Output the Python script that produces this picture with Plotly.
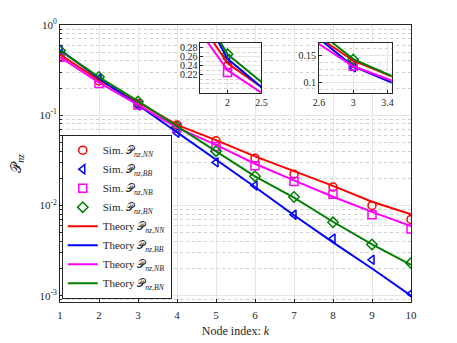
import plotly.graph_objects as go

# Indices de nodo
k = [1, 2, 3, 4, 5, 6, 7, 8, 9, 10]

# Simulacion
sim_nn = [0.45, 0.24, 0.135, 0.078, 0.052, 0.0334, 0.0222, 0.016, 0.0100, 0.0070]
sim_bb = [0.53, 0.255, 0.128, 0.064, 0.030, 0.0166, 0.0079, 0.0043, 0.0025, 0.00105]
sim_nb = [0.44, 0.225, 0.13, 0.072, 0.045, 0.0275, 0.0184, 0.0133, 0.0079, 0.0055]
sim_bn = [0.52, 0.265, 0.142, 0.074, 0.040, 0.0211, 0.0124, 0.0065, 0.0037, 0.0023]

# Teoria
th_nn = [0.47, 0.245, 0.14, 0.078, 0.053, 0.035, 0.024, 0.0165, 0.011, 0.008]
th_bb = [0.53, 0.255, 0.13, 0.065, 0.032, 0.016, 0.0078, 0.0039, 0.002, 0.001]
th_nb = [0.44, 0.23, 0.13, 0.073, 0.047, 0.029, 0.019, 0.0125, 0.0085, 0.0059]
th_bn = [0.52, 0.265, 0.143, 0.075, 0.040, 0.021, 0.0122, 0.0066, 0.0037, 0.0022]

# Ticks del eje y
y_ticks = [0.001, 0.01, 0.1, 1]
y_ticktext = ["10<sup>-3</sup>", "10<sup>-2</sup>", "10<sup>-1</sup>", "10<sup>0</sup>"]

P = "𝒫"
series = [
    ("NN", sim_nn, th_nn, "#ff0000", "circle-open"),
    ("BB", sim_bb, th_bb, "#0000ff", "triangle-left-open"),
    ("NB", sim_nb, th_nb, "#ff00ff", "square-open"),
    ("BN", sim_bn, th_bn, "#008000", "diamond-open"),
]

fig = go.Figure()

axes = [("x", "y", True), ("x2", "y2", False), ("x3", "y3", False)]

for xa, ya, main in axes:
    for name, s, t, col, sym in series:
        fig.add_trace(go.Scatter(
            x=k, y=s, mode="markers", xaxis=xa, yaxis=ya,
            name=f"Sim. {P}<sub><i>nz</i>,<i>{name}</i></sub>",
            marker=dict(symbol=sym, color=col, size=8, line=dict(width=1.5, color=col)),
            showlegend=main,
        ))
for xa, ya, main in axes:
    for name, s, t, col, sym in series:
        fig.add_trace(go.Scatter(
            x=k, y=t, mode="lines", xaxis=xa, yaxis=ya,
            name=f"Theory {P}<sub><i>nz</i>,<i>{name}</i></sub>",
            line=dict(color=col, width=2),
            showlegend=main,
        ))

ax_common = dict(showline=True, linecolor="#262626", linewidth=1, mirror=True,
                 ticks="inside", ticklen=3, tickcolor="#262626",
                 gridcolor="#e6e6e6", zeroline=False, automargin=False)
inset_font = dict(size=10)

# la pagina tiene 8px de margen en el body, se compensa aqui
fig.update_layout(
    width=457, height=343,
    margin=dict(l=52, r=54, t=17, b=49),
    paper_bgcolor="white", plot_bgcolor="white",
    font=dict(family="Liberation Serif", size=11, color="#262626"),
    xaxis=dict(range=[1, 10], dtick=1, domain=[0, 1], ticklabelstandoff=3,
               title=dict(text="Node index: <i>k</i>", standoff=6, font=dict(size=12)),
               **ax_common),
    yaxis=dict(type="log", range=[-3.07, 0], tickvals=y_ticks, ticktext=y_ticktext,
               title=dict(text=f"{P}<sub><i>nz</i></sub>", standoff=14, font=dict(size=14)),
               minor=dict(dtick="D1", ticks="inside", ticklen=2, showgrid=True,
                          griddash="dot", gridcolor="#d0d0d0"),
               **ax_common),
    xaxis2=dict(range=[1.6, 2.5], tickvals=[2, 2.5], domain=[0.40, 0.574],
                anchor="y2", tickfont=inset_font, **ax_common),
    yaxis2=dict(range=[0.18, 0.29], tickvals=[0.22, 0.24, 0.26, 0.28],
                domain=[0.755, 0.935], anchor="x2", tickfont=inset_font,
                minor=dict(dtick=0.01, showgrid=True, griddash="dot", gridcolor="#d0d0d0"),
                **ax_common),
    xaxis3=dict(range=[2.6, 3.45], tickvals=[2.6, 3, 3.4], domain=[0.738, 0.945],
                anchor="y3", tickfont=inset_font, **ax_common),
    yaxis3=dict(range=[0.082, 0.172], tickvals=[0.1, 0.15], domain=[0.755, 0.935],
                anchor="x3", tickfont=inset_font,
                minor=dict(dtick=0.0125, showgrid=True, griddash="dot", gridcolor="#d0d0d0"),
                **ax_common),
    legend=dict(x=0.005, y=0.012, xanchor="left", yanchor="bottom",
                bgcolor="white", bordercolor="#262626", borderwidth=1,
                font=dict(size=11), tracegroupgap=0, itemwidth=30),
)

fig.write_html("out.html")
